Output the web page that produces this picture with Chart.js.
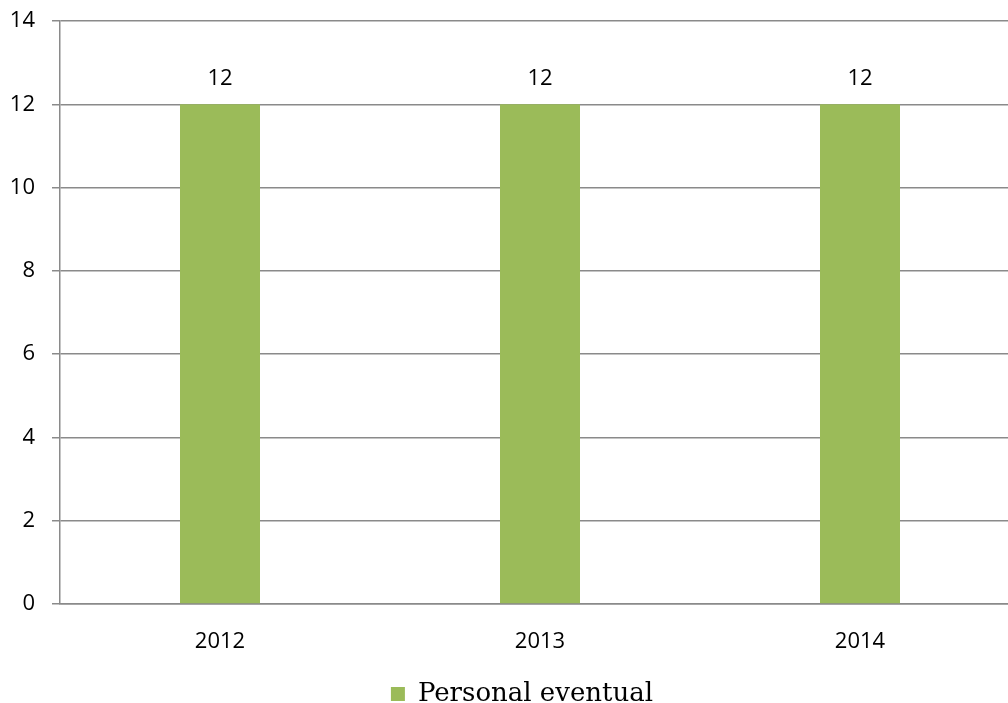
<!DOCTYPE html>
<html>
<head>
<meta charset="utf-8">
<script src="https://cdn.jsdelivr.net/npm/chart.js@4.4.0/dist/chart.umd.min.js"></script>
<style>
  html, body { margin: 0; padding: 0; background: #fff; overflow: hidden; width: 1008px; height: 703px; }
  #wrap { width: 1020px; height: 703px; }
</style>
</head>
<body>
<div id="wrap"><canvas id="c" width="1020" height="703"></canvas></div>
<script>
const categories = ['2012', '2013', '2014'];
const seriesName = 'Personal eventual';
const seriesValues = [12, 12, 12];
const yTicks = [0, 2, 4, 6, 8, 10, 12, 14];

const GRID = '#8a8a8a';
const GREEN = '#9BBB59';
const TICK_FONT = { family: 'Open Sans', size: 22 };

const valueLabels = {
  id: 'valueLabels',
  afterDatasetsDraw(chart) {
    const ctx = chart.ctx;
    ctx.save();
    ctx.font = '22px "Open Sans"';
    ctx.fillStyle = '#000';
    ctx.textAlign = 'center';
    ctx.textBaseline = 'middle';
    chart.data.datasets.forEach((ds, di) => {
      const meta = chart.getDatasetMeta(di);
      meta.data.forEach((bar, i) => {
        ctx.fillText(String(ds.data[i]), bar.x, bar.y - 26);
      });
    });
    ctx.restore();
  }
};

const shiftLegend = {
  id: 'shiftLegend',
  afterLayout(chart) {
    const lg = chart.legend;
    if (lg) {
      lg.left += 12;
      lg.right += 12;
      lg.top += 14;
      lg.bottom += 14;
    }
  }
};

new Chart(document.getElementById('c'), {
  type: 'bar',
  data: {
    labels: categories,
    datasets: [{
      label: seriesName,
      data: seriesValues,
      backgroundColor: GREEN,
      borderWidth: 0,
      categoryPercentage: 1,
      barPercentage: 0.25
    }]
  },
  options: {
    responsive: false,
    animation: false,
    devicePixelRatio: 1,
    layout: { padding: { top: 21, right: 0, left: 0, bottom: 0 } },
    plugins: {
      tooltip: { enabled: false },
      legend: {
        position: 'bottom',
        labels: {
          boxWidth: 14,
          boxHeight: 14,
          padding: 5,
          color: '#000',
          font: { family: 'DejaVu Serif', size: 26 }
        }
      }
    },
    scales: {
      x: {
        grid: { display: false },
        border: { display: true, color: GRID, width: 1.5 },
        ticks: { color: '#000', font: TICK_FONT, padding: 17 },
        afterFit(s) { s.height = 58; s.paddingLeft = 0; s.paddingRight = 0; }
      },
      y: {
        min: 0,
        max: 14,
        afterBuildTicks(s) { s.ticks = yTicks.map(v => ({ value: v })); },
        grid: { color: GRID, lineWidth: 1.5, tickLength: 8 },
        border: { display: true, color: GRID, width: 1.5 },
        ticks: { color: '#000', font: TICK_FONT, padding: 17 },
        afterFit(s) { s.width = 60; s.paddingTop = 0; s.paddingBottom = 0; }
      }
    }
  },
  plugins: [valueLabels, shiftLegend]
});
</script>
</body>
</html>
